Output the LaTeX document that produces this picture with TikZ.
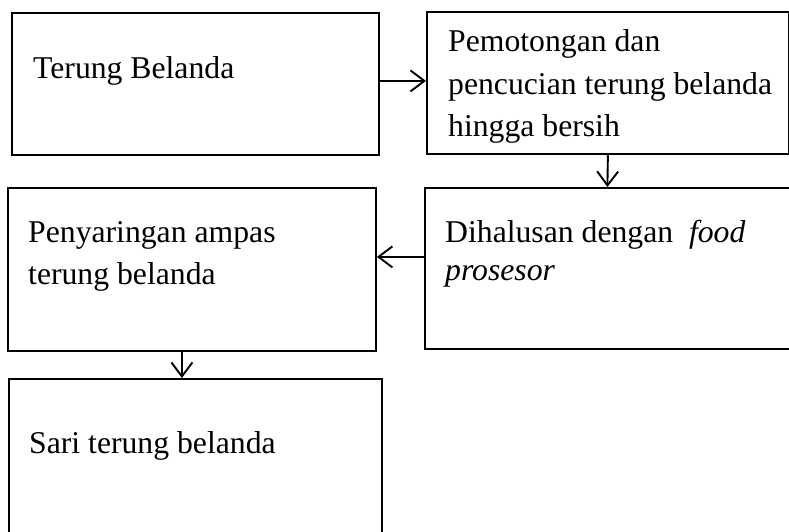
\documentclass[tikz,border=0pt]{standalone}
\usepackage{fontspec}
\setmainfont{Liberation Serif}
\usetikzlibrary{arrows.meta}
\begin{document}
\begin{tikzpicture}[x=1pt,y=-1pt]
\tikzstyle{every node}+=[inner sep=0pt]
\tikzstyle{stage}=[draw=black, line width=1.8pt, anchor=north west]
\tikzstyle{caption}=[anchor=base west, font=\fontsize{31.7}{42.5}\selectfont]
\tikzstyle{flow}=[black, line width=1.9pt, -{Straight Barb[length=14pt,width=21pt]}]
\useasboundingbox (0,0) rectangle (789,532);
\node [stage, minimum width=367pt, minimum height=142pt] (terung) at (11,12) {};
\node [stage, minimum width=362pt, minimum height=142pt] (potong) at (426,11) {};
\node [stage, minimum width=365pt, minimum height=161pt] (halus) at (424,187) {};
\node [stage, minimum width=368pt, minimum height=163pt] (saring) at (7,187) {};
\node [stage, minimum width=373pt, minimum height=160pt] (sari) at (8,378) {};
\node [caption] (terungtext) at (33,79) {Terung Belanda};
\node [caption] (potongtext) at (448,52) {\parbox[t]{330pt}{Pemotongan dan\\pencucian terung belanda\\hingga bersih}};
\node [caption, font=\fontsize{31.7}{38.5}\selectfont] (halustext) at (445,242) {\parbox[t]{330pt}{Dihalusan dengan \ \textit{food}\\\textit{prosesor}}};
\node [caption] (saringtext) at (28,242) {\parbox[t]{330pt}{Penyaringan ampas\\terung belanda}};
\node [caption] (saritext) at (29,453) {Sari terung belanda};
\draw [flow] ([yshift=3pt]terung.east) -- ([yshift=3pt]terung.east -| potong.west);
\draw [flow] (potong.south) -- (halus.north);
\draw [flow] ([yshift=11.5pt]halus.west) -- ([yshift=11.5pt]halus.west -| saring.east);
\draw [flow] ([xshift=-10pt]saring.south) -- ([xshift=-10pt]saring.south |- sari.north);
\end{tikzpicture}
\end{document}
